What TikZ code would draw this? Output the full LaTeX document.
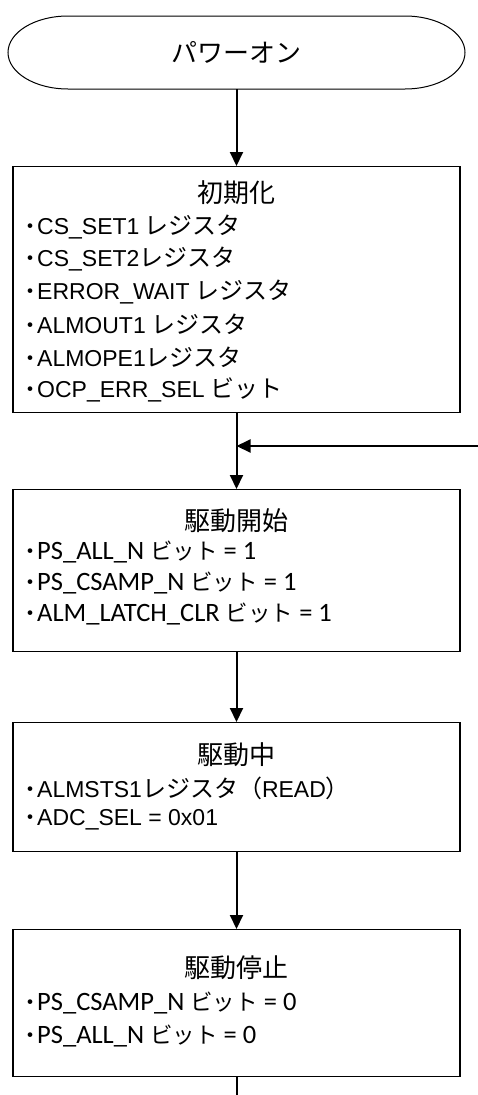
\documentclass[tikz,border=0pt]{standalone}
\usepackage{fontspec}
\setmainfont{Liberation Sans}
\newfontfamily\jp{Noto Sans CJK JP}
\newfontfamily\calfont{Carlito}
\usetikzlibrary{arrows.meta}
\newcommand{\jpb}[1]{{\fontsize{22.5}{26}\selectfont\jp #1}}
\newcommand{\jpa}[1]{{\fontsize{24}{28}\selectfont\jp #1}}
\newcommand{\bul}{{\fontsize{22}{26}\selectfont\jp ・}\kern-4pt}
\begin{document}
\begin{tikzpicture}[x=1pt,y=-1pt,
  box/.style={draw, line width=1.3pt, minimum width=447pt, minimum height=#1, inner sep=0pt, anchor=north},
  arr/.style={line width=2pt, -{Triangle[length=14pt,width=13pt]}},
  plainline/.style={line width=2pt},
  ttl/.style={inner sep=0pt, font=\fontsize{26}{30}\selectfont\jp},
  itemA/.style={inner sep=0pt, anchor=west, font=\fontsize{23}{27}\selectfont},
  itemB/.style={inner sep=0pt, anchor=west, font=\fontsize{26.5}{31}\selectfont\calfont},
]
\useasboundingbox (0,0) rectangle (478,1095);
% terminal
\node (term) [minimum width=457pt, minimum height=73pt, inner sep=0pt] at (236.5,52.5) {};
\draw[line width=1pt] (68,16) -- (405,16) arc[start angle=-90, end angle=90, x radius=60, y radius=36.5]
  -- (68,89) arc[start angle=90, end angle=270, x radius=60, y radius=36.5] -- cycle;
\node[ttl] (termtext) at (236.5,52.5) {パワーオン};

% boxes
\node[box=246pt] (b1) at (236.5,166) {};
\node[box=162pt] (b2) at (236.5,489) {};
\node[box=129pt] (b3) at (236.5,722) {};
\node[box=147pt] (b4) at (236.5,929) {};

% box 1 text
\node[ttl] (t1) at (236.5,193) {初期化};
\node[itemA] (t1a) at (19,227) {\bul CS\_SET1\jpa{ レジスタ}};
\node[itemA] (t1b) at (19,259.5) {\bul CS\_SET2\jpa{レジスタ}};
\node[itemA] (t1c) at (19,292) {\bul ERROR\_WAIT\jpa{ レジスタ}};
\node[itemA] (t1d) at (19,324.5) {\bul ALMOUT1\jpa{ レジスタ}};
\node[itemA] (t1e) at (19,357) {\bul ALMOPE1\jpa{レジスタ}};
\node[itemA] (t1f) at (19,389.5) {\bul OCP\_ERR\_SEL\jpa{ ビット}};

% box 2 text
\node[ttl] (t2) at (236.5,521) {駆動開始};
\node[itemB] (t2a) at (19,552) {\bul PS\_ALL\_N \jpb{ビット} = 1};
\node[itemB] (t2b) at (19,583) {\bul PS\_CSAMP\_N \jpb{ビット} = 1};
\node[itemB] (t2c) at (19,614) {\bul ALM\_LATCH\_CLR \jpb{ビット} = 1};

% box 3 text
\node[ttl] (t3) at (236.5,755) {駆動中};
\node[itemA] (t3a) at (19,788) {\bul ALMSTS1\jpa{レジスタ（}READ\jpa{）}};
\node[itemA] (t3b) at (19,820) {\bul ADC\_SEL = 0x01};

% box 4 text
\node[ttl] (t4) at (236.5,968) {駆動停止};
\node[itemB] (t4a) at (19,1003) {\bul PS\_CSAMP\_N \jpb{ビット} = 0};
\node[itemB] (t4b) at (19,1036) {\bul PS\_ALL\_N \jpb{ビット} = 0};

% connectors
\draw[arr] (term.south) -- (b1.north);
\draw[arr] (b1.south) -- (b2.north);
\coordinate (fb) at (478,446);
\coordinate (join) at (236.5,446);
\draw[arr] (fb) -- (join);
\draw[arr] (b2.south) -- (b3.north);
\draw[arr] (b3.south) -- (b4.north);
\coordinate (endpt) at (236.5,1095);
\draw[plainline] (b4.south) -- (endpt);
\end{tikzpicture}
\end{document}
